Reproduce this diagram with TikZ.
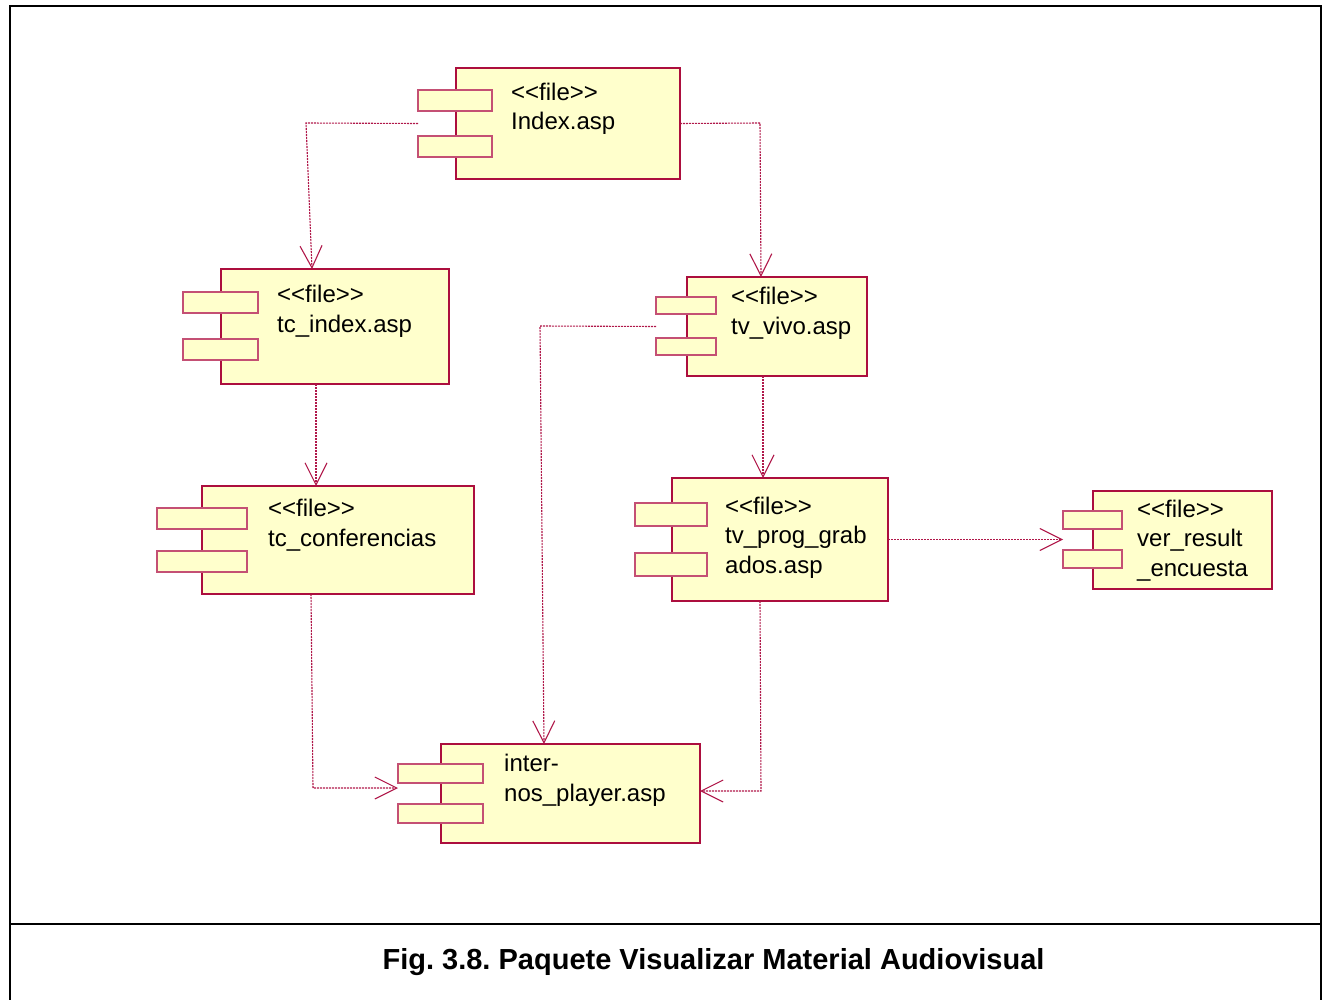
\documentclass[tikz,border=0pt]{standalone}
\usepackage{fontspec}
\setmainfont{Liberation Sans}
\usetikzlibrary{arrows.meta}
\frenchspacing
\definecolor{frameC}{RGB}{172,14,62}
\definecolor{tabC}{RGB}{196,80,116}
\definecolor{boxC}{RGB}{255,255,204}
\definecolor{lineC}{RGB}{176,24,74}
\newcommand{\stereo}{{<}{<}file{>}{>}}
\tikzset{
  body/.style={draw=frameC, fill=boxC, line width=1.3pt, inner sep=0pt, outer sep=0pt, anchor=north west},
  tab/.style={draw=tabC, fill=boxC, line width=1.3pt, inner sep=0pt, outer sep=0pt, anchor=north west},
  lbl/.style={anchor=base west, align=left, inner sep=0pt, font=\fontsize{24}{29.5}\selectfont},
  dep/.style={draw=lineC, line width=1.1pt, dash pattern=on 2pt off 1pt,
    -{Straight Barb[length=22pt,width=22pt,line width=1.1pt]}},
}
\begin{document}
\begin{tikzpicture}[x=1pt,y=-1pt]
\useasboundingbox (0,0) rectangle (1322,1000);
% outer frame and caption rule
\draw[line width=2pt] (10,1005) -- (10,6) -- (1321,6) -- (1321,1005);
\draw[line width=2pt] (10,924) -- (1321,924);
\node[anchor=base, inner sep=0pt, font=\bfseries\fontsize{29}{34}\selectfont] (cap) at (713.5,969)
  {Fig. 3.8. Paquete Visualizar Material Audiovisual};

% Index.asp
\node[body, minimum width=224pt, minimum height=111pt] (idx) at (456,68) {};
\node[tab, minimum width=74pt, minimum height=21pt] (idxTabA) at (418,90) {};
\node[tab, minimum width=74pt, minimum height=21pt] (idxTabB) at (418,136) {};
\node[lbl] (idxT) at (511,130) {\stereo\\Index.asp};

% tc_index.asp
\node[body, minimum width=228pt, minimum height=115pt] (tci) at (221,269) {};
\node[tab, minimum width=75pt, minimum height=21pt] (tciTabA) at (183,292) {};
\node[tab, minimum width=75pt, minimum height=21pt] (tciTabB) at (183,339) {};
\node[lbl] (tciT) at (277,332) {\stereo\\tc\_index.asp};

% tv_vivo.asp
\node[body, minimum width=180pt, minimum height=99pt] (tvv) at (687,277) {};
\node[tab, minimum width=60pt, minimum height=17pt] (tvvTabA) at (656,297) {};
\node[tab, minimum width=60pt, minimum height=17pt] (tvvTabB) at (656,338) {};
\node[lbl] (tvvT) at (731,334) {\stereo\\tv\_vivo.asp};

% tc_conferencias
\node[body, minimum width=272pt, minimum height=108pt] (tcc) at (202,486) {};
\node[tab, minimum width=90pt, minimum height=21pt] (tccTabA) at (157,508) {};
\node[tab, minimum width=90pt, minimum height=21pt] (tccTabB) at (157,551) {};
\node[lbl] (tccT) at (268,546) {\stereo\\tc\_conferencias};

% tv_prog_grabados.asp
\node[body, minimum width=216pt, minimum height=123pt] (tvp) at (672,478) {};
\node[tab, minimum width=72pt, minimum height=23pt] (tvpTabA) at (635,503) {};
\node[tab, minimum width=72pt, minimum height=23pt] (tvpTabB) at (635,553) {};
\node[lbl] (tvpT) at (725,573) {\stereo\\tv\_prog\_grab\\ados.asp};

% ver_result_encuesta
\node[body, minimum width=179pt, minimum height=98pt] (ver) at (1093,491) {};
\node[tab, minimum width=59pt, minimum height=18pt] (verTabA) at (1063,511) {};
\node[tab, minimum width=59pt, minimum height=18pt] (verTabB) at (1063,550) {};
\node[lbl] (verT) at (1137,576) {\stereo\\ver\_result\\\_encuesta};

% internos_player.asp
\node[body, minimum width=259pt, minimum height=99pt] (inp) at (441,744) {};
\node[tab, minimum width=85pt, minimum height=19pt] (inpTabA) at (398,764) {};
\node[tab, minimum width=85pt, minimum height=19pt] (inpTabB) at (398,804) {};
\node[lbl] (inpT) at (504,801) {inter-\\nos\_player.asp};

% dependencies
\coordinate (b1) at (306,123);
\coordinate (b2) at (760,123);
\coordinate (b5) at (540,326);
\coordinate (b6) at (313,788);
\coordinate (b7) at (761,791);
\draw[dep] (idxTabA.west |- idx.west) -- (b1) -- ([xshift=91pt]tci.north west);
\draw[dep] (idx.east) -- (b2) -- ([xshift=74pt]tvv.north west);
\draw[dep] ([xshift=95pt]tci.south west) -- ([xshift=114pt]tcc.north west);
\draw[dep] ([xshift=76pt]tvv.south west) -- ([xshift=91pt]tvp.north west);
\draw[dep] (tvvTabA.west |- tvv.west) -- (b5) -- ([xshift=103pt]inp.north west);
\draw[dep] ([xshift=109pt]tcc.south west) -- (b6) -- (inpTabA.west |- b6);
\draw[dep] ([xshift=88pt]tvp.south west) -- (b7) -- (inp.east |- b7);
\draw[dep] (tvp.east) -- (verTabA.west |- tvp.east);
\end{tikzpicture}
\end{document}
